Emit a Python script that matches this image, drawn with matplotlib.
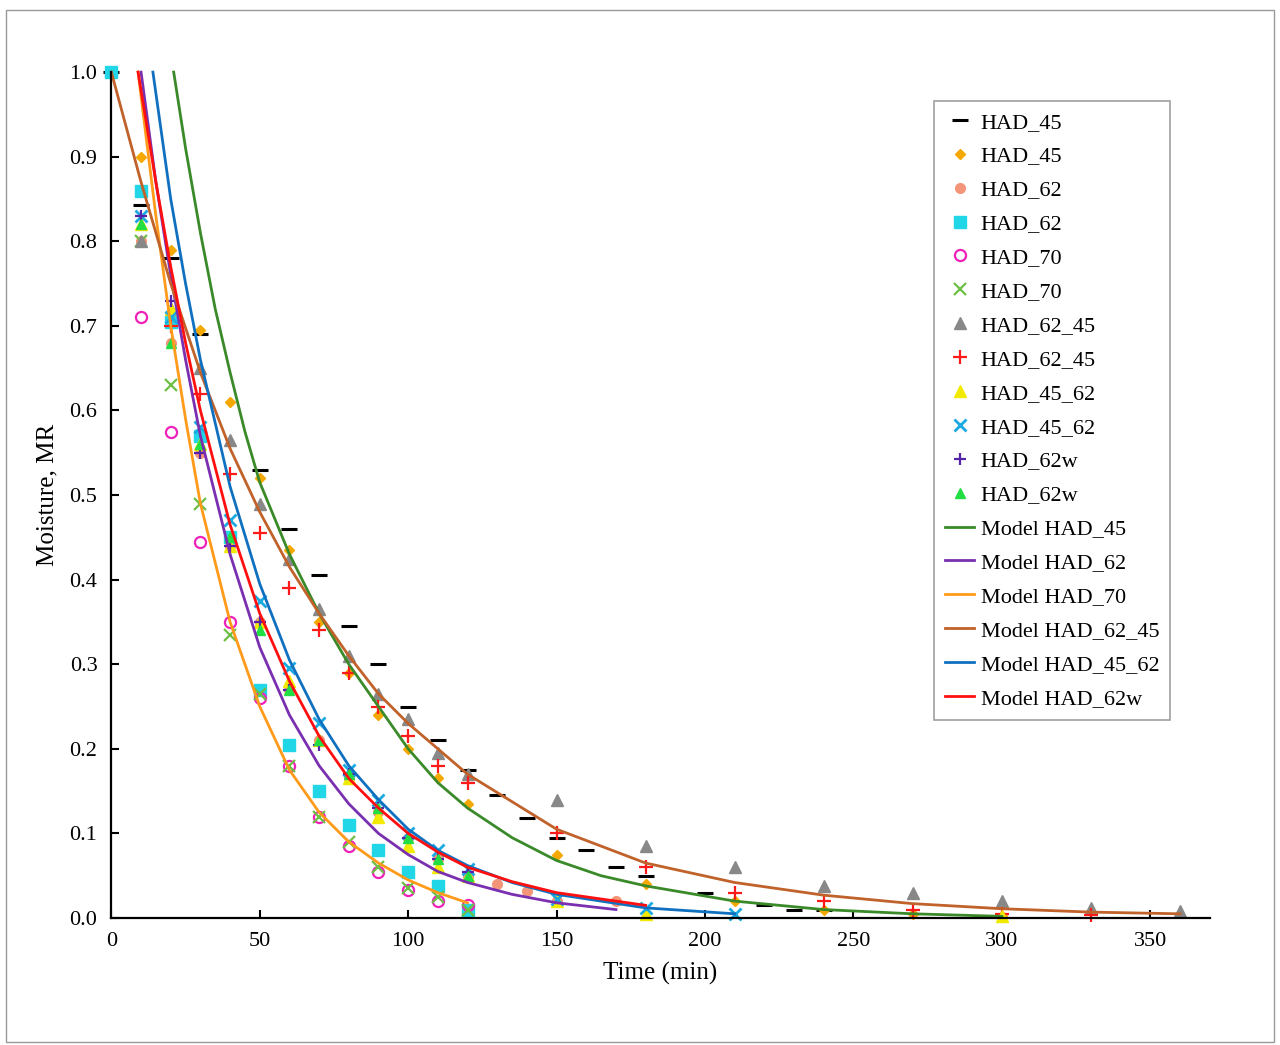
import numpy as np
import matplotlib
matplotlib.use("Agg")
import matplotlib.pyplot as plt

plt.rcParams["font.family"] = ["Liberation Serif", "DejaVu Serif"]

# experimental data (time, MR)
t45a = [0, 10, 20, 30, 50, 60, 70, 80, 90, 100, 110, 120, 130, 140, 150, 160, 170, 180, 200, 220, 230, 240]
mr45a = [1.0, 0.843, 0.78, 0.69, 0.53, 0.46, 0.405, 0.345, 0.30, 0.25, 0.21, 0.175, 0.145, 0.118, 0.095, 0.08, 0.06, 0.05, 0.03, 0.015, 0.01, 0.01]
t45b = [0, 10, 20, 30, 40, 50, 60, 70, 80, 90, 100, 110, 120, 150, 180, 210, 240, 270, 300]
mr45b = [1.0, 0.90, 0.79, 0.695, 0.61, 0.52, 0.435, 0.35, 0.29, 0.24, 0.20, 0.165, 0.135, 0.075, 0.04, 0.02, 0.01, 0.005, 0.002]
t62a = [10, 20, 30, 40, 50, 60, 70, 80, 90, 100, 110, 120, 130, 140, 150, 170]
mr62a = [0.80, 0.68, 0.55, 0.44, 0.35, 0.27, 0.21, 0.165, 0.125, 0.095, 0.07, 0.05, 0.04, 0.032, 0.02, 0.02]
t62b = [0, 10, 20, 30, 40, 50, 60, 70, 80, 90, 100, 110, 120]
mr62b = [1.0, 0.86, 0.705, 0.57, 0.45, 0.27, 0.205, 0.15, 0.11, 0.08, 0.055, 0.038, 0.01]
t70a = [10, 20, 30, 40, 50, 60, 70, 80, 90, 100, 110, 120]
mr70a = [0.71, 0.575, 0.445, 0.35, 0.26, 0.18, 0.12, 0.085, 0.055, 0.033, 0.02, 0.015]
t70b = [10, 20, 30, 40, 50, 60, 70, 80, 90, 100, 110, 120]
mr70b = [0.80, 0.63, 0.49, 0.335, 0.265, 0.18, 0.12, 0.09, 0.06, 0.035, 0.025, 0.01]
t6245a = [10, 20, 30, 40, 50, 60, 70, 80, 90, 100, 110, 120, 150, 180, 210, 240, 270, 300, 330, 360]
mr6245a = [0.80, 0.72, 0.65, 0.565, 0.49, 0.425, 0.365, 0.31, 0.265, 0.235, 0.195, 0.17, 0.14, 0.085, 0.06, 0.038, 0.03, 0.02, 0.012, 0.008]
t6245b = [20, 30, 40, 50, 60, 70, 80, 90, 100, 110, 120, 150, 180, 210, 240, 270, 300, 330]
mr6245b = [0.70, 0.62, 0.525, 0.455, 0.39, 0.34, 0.29, 0.25, 0.215, 0.18, 0.16, 0.10, 0.06, 0.03, 0.02, 0.01, 0.005, 0.003]
t4562a = [10, 20, 30, 40, 50, 60, 70, 80, 90, 100, 110, 120, 150, 180, 300]
mr4562a = [0.82, 0.72, 0.56, 0.44, 0.35, 0.28, 0.21, 0.165, 0.12, 0.085, 0.06, 0.05, 0.02, 0.005, 0.002]
t4562b = [10, 20, 30, 40, 50, 60, 70, 80, 90, 100, 110, 120, 150, 180, 210]
mr4562b = [0.83, 0.71, 0.58, 0.47, 0.375, 0.295, 0.23, 0.175, 0.14, 0.10, 0.08, 0.058, 0.022, 0.012, 0.005]
t62wa = [10, 20, 30, 40, 50, 60, 70, 80, 90, 100, 110, 120]
mr62wa = [0.83, 0.73, 0.55, 0.44, 0.35, 0.27, 0.205, 0.17, 0.13, 0.095, 0.07, 0.055]
t62wb = [10, 20, 30, 40, 50, 60, 70, 80, 90, 100, 110, 120]
mr62wb = [0.82, 0.68, 0.56, 0.45, 0.34, 0.27, 0.21, 0.17, 0.13, 0.095, 0.07, 0.05]

# model curves
m45_t = [21, 25, 30, 35, 40, 45, 50, 60, 70, 80, 90, 100, 110, 120, 135, 150, 165, 180, 210, 240, 270, 300]
m45_y = [1.0, 0.91, 0.81, 0.72, 0.645, 0.575, 0.515, 0.43, 0.36, 0.30, 0.25, 0.20, 0.16, 0.13, 0.095, 0.068, 0.05, 0.038, 0.02, 0.01, 0.005, 0.002]
m62_t = [10, 15, 20, 25, 30, 40, 50, 60, 70, 80, 90, 100, 110, 120, 135, 150, 170]
m62_y = [1.0, 0.87, 0.76, 0.66, 0.57, 0.43, 0.32, 0.24, 0.18, 0.135, 0.10, 0.075, 0.055, 0.042, 0.028, 0.018, 0.01]
m70_t = [9, 15, 20, 25, 30, 40, 50, 60, 70, 80, 90, 100, 110, 120]
m70_y = [1.0, 0.83, 0.70, 0.59, 0.49, 0.35, 0.25, 0.175, 0.125, 0.09, 0.065, 0.045, 0.03, 0.018]
m6245_t = [0, 10, 20, 30, 40, 50, 60, 70, 80, 90, 100, 120, 150, 180, 210, 240, 270, 300, 330, 360]
m6245_y = [1.0, 0.87, 0.75, 0.645, 0.555, 0.48, 0.415, 0.36, 0.31, 0.265, 0.23, 0.17, 0.105, 0.065, 0.042, 0.027, 0.017, 0.011, 0.007, 0.005]
m4562_t = [14, 20, 25, 30, 40, 50, 60, 70, 80, 90, 100, 110, 120, 135, 150, 180, 210]
m4562_y = [1.0, 0.85, 0.75, 0.66, 0.51, 0.395, 0.305, 0.235, 0.18, 0.14, 0.105, 0.08, 0.062, 0.042, 0.028, 0.012, 0.005]
m62w_t = [9, 15, 20, 25, 30, 40, 50, 60, 70, 80, 90, 100, 110, 120, 135, 150, 180]
m62w_y = [1.0, 0.87, 0.77, 0.68, 0.60, 0.465, 0.36, 0.28, 0.215, 0.165, 0.13, 0.10, 0.078, 0.06, 0.043, 0.03, 0.015]

fig = plt.figure(figsize=(12.8, 10.45), dpi=100)
ax = fig.add_axes([0.087, 0.1215, 0.858, 0.8095])

ms = 7
ax.plot(t45a, mr45a, ls="none", marker="_", ms=11, mew=2.2, color="black", label="HAD_45")
ax.plot(t45b, mr45b, ls="none", marker="D", ms=5.5, color="#f5a800", label="HAD_45")
ax.plot(t62a, mr62a, ls="none", marker="o", ms=ms, color="#f4957a", label="HAD_62")
ax.plot(t62b, mr62b, ls="none", marker="s", ms=ms + 1, color="#21d6e6", label="HAD_62")
ax.plot(t70a, mr70a, ls="none", marker="o", ms=ms + 1, mfc="none", mew=1.6, color="#ee22bb", label="HAD_70")
ax.plot(t70b, mr70b, ls="none", marker="x", ms=ms + 1, mew=1.6, color="#6dbf45", label="HAD_70")
ax.plot(t6245a, mr6245a, ls="none", marker="^", ms=ms + 1, color="#888888", label="HAD_62_45")
ax.plot(t6245b, mr6245b, ls="none", marker="+", ms=ms + 3, mew=1.6, color="#ff1a1a", label="HAD_62_45")
ax.plot(t4562a, mr4562a, ls="none", marker="^", ms=ms + 1, color="#f2ea00", label="HAD_45_62")
ax.plot(t4562b, mr4562b, ls="none", marker="x", ms=ms + 2, mew=2, color="#1aa9e0", label="HAD_45_62")
ax.plot(t62wa, mr62wa, ls="none", marker="+", ms=ms + 2, mew=1.6, color="#5522aa", label="HAD_62w")
ax.plot(t62wb, mr62wb, ls="none", marker="^", ms=ms, color="#22dd44", label="HAD_62w")

ax.plot(m45_t, m45_y, color="#3a8a2a", lw=2, label="Model HAD_45")
ax.plot(m62_t, m62_y, color="#7a2fb0", lw=2, label="Model HAD_62")
ax.plot(m70_t, m70_y, color="#ff9a1a", lw=2, label="Model HAD_70")
ax.plot(m6245_t, m6245_y, color="#c0622a", lw=2, label="Model HAD_62_45")
ax.plot(m4562_t, m4562_y, color="#1070c0", lw=2, label="Model HAD_45_62")
ax.plot(m62w_t, m62w_y, color="#ff1010", lw=2, label="Model HAD_62w")

ax.set_xlim(0, 370)
ax.set_ylim(0, 1.0)
ax.set_xticks(range(0, 351, 50))
ax.set_yticks(np.arange(0, 1.01, 0.1))
ax.yaxis.set_major_formatter(matplotlib.ticker.FormatStrFormatter("%.1f"))
ax.tick_params(direction="in", labelsize=16, width=1.5, length=6, pad=10)
for s in ("top", "right"):
    ax.spines[s].set_visible(False)
for s in ("left", "bottom"):
    ax.spines[s].set_linewidth(1.6)
ax.set_xlabel("Time (min)", fontsize=18, labelpad=8)
ax.set_ylabel("Moisture, MR", fontsize=18, labelpad=8)
for ln in ax.lines:
    ln.set_clip_on(False)

leg = ax.legend(loc="upper left", bbox_to_anchor=(0.739, 0.979), fontsize=16,
                frameon=True, fancybox=False, edgecolor="#888888",
                handlelength=1.3, handletextpad=0.3, labelspacing=0.6, borderpad=0.5)
leg.get_frame().set_linewidth(1.2)

fig.patches.append(matplotlib.patches.Rectangle((0.005, 0.003), 0.99, 0.987, transform=fig.transFigure,
                                                fill=False, edgecolor="#999999", lw=1))
fig.savefig("out.png", dpi=100)
